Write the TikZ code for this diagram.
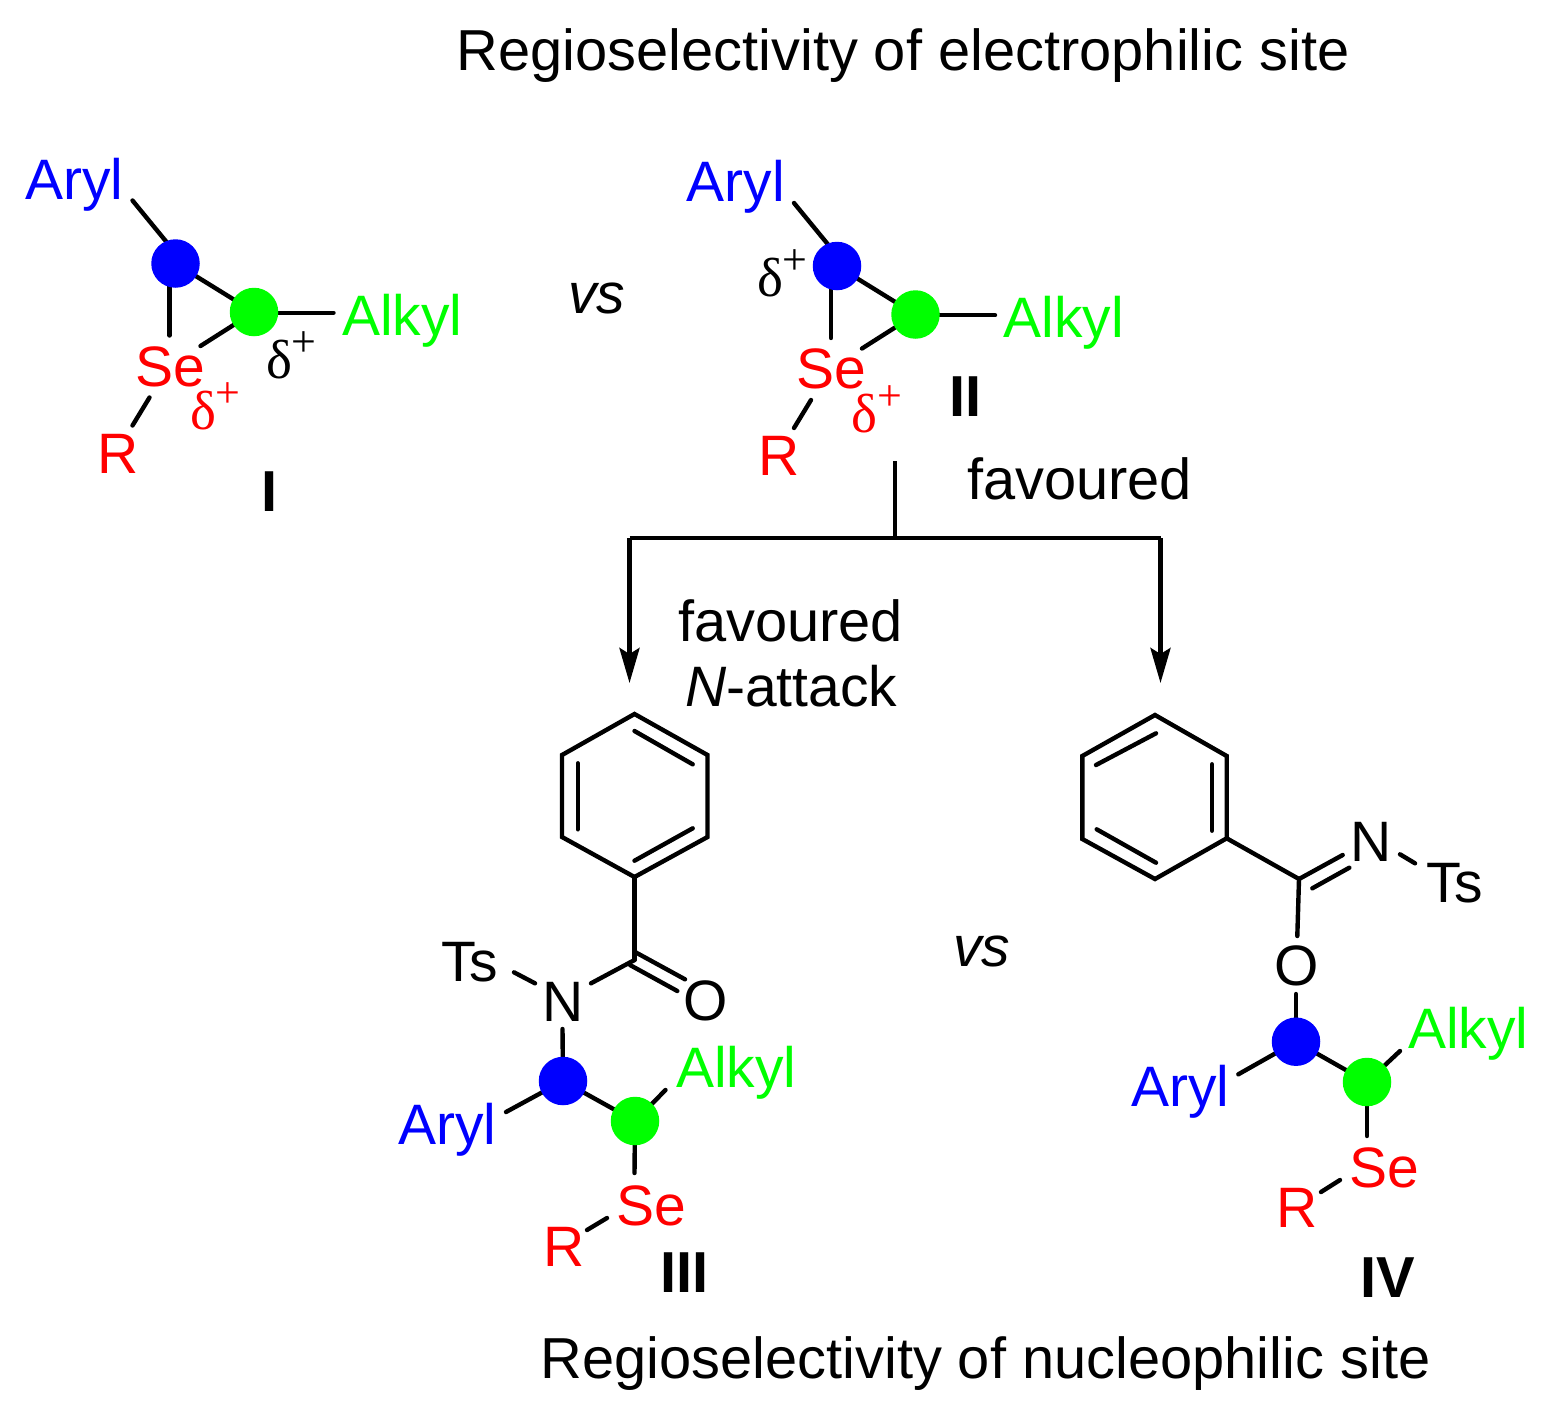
\documentclass[tikz,border=0pt]{standalone}
\usepackage{fontspec}
\setmainfont{Liberation Sans}
\newfontfamily\delfont{Liberation Serif}
\usetikzlibrary{arrows.meta,backgrounds}
\definecolor{cblue}{HTML}{0000FF}
\definecolor{cgreen}{HTML}{00FF00}
\definecolor{cred}{HTML}{FF0000}
\newcommand\dplus{{\delfont\fontsize{55}{55}\selectfont δ\raisebox{22pt}{\fontsize{44}{44}\selectfont +}}}
\tikzset{
  lab/.style={anchor=base west,inner sep=0pt,outer sep=0pt,yshift=-1pt,font=\fontsize{57}{60}\selectfont,text=black},
  txt/.style={lab,font=\fontsize{57.8}{60}\selectfont},
  blab/.style={lab,text=cblue},
  glab/.style={lab,text=cgreen},
  rlab/.style={lab,text=cred},
  dlab/.style={anchor=base west,inner sep=0pt,outer sep=0pt,text=black},
  num/.style={anchor=base,inner sep=0pt,outer sep=0pt,font=\fontsize{57.8}{60}\selectfont\bfseries},
  bluedot/.style={circle,fill=cblue,minimum size=48.5pt,inner sep=0pt,outer sep=0pt},
  greendot/.style={circle,fill=cgreen,minimum size=48.5pt,inner sep=0pt,outer sep=0pt},
  bond/.style={line width=4.4pt,line cap=round,line join=miter,black},
  flow/.style={line width=4.4pt,line join=miter,black},
  arrowed/.style={flow,-{Stealth[length=35pt,width=20pt,inset=6pt]}}
}
\newcommand\cyclo[4]{%
\begin{scope}[shift={(#2,#3)}]
  \node[blab] (#1aryl) at (25,198) {Aryl};
  \node[glab] (#1alkyl) at (342,334) {Alkyl};
  \node[rlab] (#1se) at (135,385) {Se};
  \node[rlab] (#1r) at (97,472) {R};
  \node[bluedot] (#1blue) at (175.5,263.5) {};
  \node[greendot] (#1green) at (254,312) {};
  \coordinate (#1ca) at (132.5,200.5);
  \coordinate (#1cb) at (169.5,335.5);
  \coordinate (#1cc) at (200.5,346);
  \coordinate (#1cd) at (333.5,312.7);
  \coordinate (#1ce) at (149.5,397.5);
  \coordinate (#1cf) at (132.5,425.5);
  \begin{pgfonlayer}{background}
    \draw[bond] (#1blue.center) -- (#1green.center);
    \draw[bond] ([xshift=-2pt,yshift=13pt]#1blue.center) -- (#1ca);
    \draw[bond] ([xshift=-6pt]#1blue.center) -- (#1cb);
    \draw[bond] (#1green.center) -- (#1cc);
    \draw[bond] ([yshift=-0.7pt]#1green.center) -- (#1cd);
    \draw[bond] (#1ce) -- (#1cf);
  \end{pgfonlayer}
\end{scope}}
\begin{document}
\begin{tikzpicture}[x=1pt,y=-1pt]
\useasboundingbox (0,0) rectangle (1546,1417);
\node[txt] (title) at (456.5,69.5) {Regioselectivity of electrophilic site};
\node[txt] (foot) at (540.5,1377) {Regioselectivity of nucleophilic site};

% I and II
\cyclo{a}{0}{0}{}
\cyclo{b}{661.5}{2.5}{}
\node[dlab] (da) at (266,378) {\dplus};
\node[dlab,text=cred] (dar) at (190,429) {\dplus};
\node[dlab] (db) at (757,296) {\dplus};
\node[dlab,text=cred] (dbr) at (851.5,432) {\dplus};
\node[num] (nI) at (269.5,511) {I};
\node[num] (nII) at (965.5,416) {II};
\node[lab,font=\fontsize{57}{60}\selectfont\itshape] (vsa) at (568,312) {vs};
\node[txt] (fav) at (967,498) {favoured};

% branching arrows
\coordinate (top) at (895,461);
\coordinate (fork) at (895,538);
\coordinate (fl) at (629.5,538);
\coordinate (fr) at (1160.5,538);
\coordinate (tl) at (629.5,683);
\coordinate (tr) at (1160.5,683);
\draw[flow] (top) -- (fork);
\draw[flow,line cap=square] (fl) -- (fr);
\draw[arrowed] (fl) -- (tl);
\draw[arrowed] (fr) -- (tr);

\node[txt] (fav2) at (678,640.5) {favoured};
\node[lab] (natt) at (685,705) {\textit{N}-attack};
\node[lab,font=\fontsize{57}{60}\selectfont\itshape] (vsb) at (953,965) {vs};

% III
\coordinate (h1) at (634.5,714);
\coordinate (h2) at (707.5,755);
\coordinate (h3) at (707.5,837);
\coordinate (h4) at (634.5,877);
\coordinate (h5) at (562,837);
\coordinate (h6) at (562,755);
\draw[bond] (h1) -- (h2) -- (h3) -- (h4) -- (h5) -- (h6) -- cycle;
\coordinate (i1a) at (634.5,731);
\coordinate (i1b) at (692.7,764.3);
\coordinate (i2a) at (577.7,763.3);
\coordinate (i2b) at (577.7,829.3);
\coordinate (i3a) at (634.5,860.7);
\coordinate (i3b) at (692.7,828.3);
\draw[bond] (i1a) -- (i1b);
\draw[bond] (i2a) -- (i2b);
\draw[bond] (i3a) -- (i3b);
\coordinate (c3) at (634.5,960);
\draw[bond] (h4) -- (c3);
\node[lab] (ts3) at (441,980.5) {Ts};
\node[lab] (n3) at (542,1020) {N};
\node[lab] (o3) at (683.5,1019.5) {O};
\coordinate (n3e) at (591,983.3);
\draw[bond] (c3) -- (n3e);
\coordinate (o3a) at (634.5,951.7);
\coordinate (o3b) at (685,979.3);
\coordinate (o3c) at (630,965);
\coordinate (o3d) at (677.3,991);
\draw[bond] (o3a) -- (o3b);
\draw[bond] (o3c) -- (o3d);
\coordinate (t3a) at (514,972.3);
\coordinate (t3b) at (535,983.3);
\draw[bond] (t3a) -- (t3b);
\node[bluedot] (blue3) at (563,1081) {};
\node[greendot] (green3) at (635,1121) {};
\node[blab] (aryl3) at (398,1143) {Aryl};
\node[glab] (alkyl3) at (676,1086) {Alkyl};
\node[rlab] (se3) at (616,1224) {Se};
\node[rlab] (r3) at (543,1265) {R};
\coordinate (n3d) at (562.5,1029);
\coordinate (ar3) at (506,1112);
\coordinate (al3) at (665.5,1090);
\coordinate (se3t) at (634.5,1173);
\coordinate (se3a) at (607,1218);
\coordinate (se3b) at (587,1230);
\begin{pgfonlayer}{background}
\draw[bond] (blue3.center) -- (green3.center);
\draw[bond] (blue3.center) -- (n3d);
\draw[bond] (blue3.center) -- (ar3);
\draw[bond] (green3.center) -- (al3);
\draw[bond] (green3.center) -- (se3t);
\draw[bond] (se3a) -- (se3b);
\end{pgfonlayer}
\node[num] (nIII) at (684.5,1292) {III};

% IV
\coordinate (k1) at (1155,715);
\coordinate (k2) at (1226.7,756);
\coordinate (k3) at (1226.7,838.3);
\coordinate (k4) at (1155,879);
\coordinate (k5) at (1082.3,839);
\coordinate (k6) at (1082.3,756);
\draw[bond] (k1) -- (k2) -- (k3) -- (k4) -- (k5) -- (k6) -- cycle;
\coordinate (j1a) at (1096,765);
\coordinate (j1b) at (1156,733.3);
\coordinate (j2a) at (1212,764.3);
\coordinate (j2b) at (1212,830.7);
\coordinate (j3a) at (1096.7,829.3);
\coordinate (j3b) at (1156,862.7);
\draw[bond] (j1a) -- (j1b);
\draw[bond] (j2a) -- (j2b);
\draw[bond] (j3a) -- (j3b);
\coordinate (c4) at (1299,879);
\draw[bond] (k3) -- (c4);
\coordinate (n4a) at (1342.7,855);
\coordinate (n4b) at (1312.3,888.3);
\coordinate (n4c) at (1349.3,867.7);
\draw[bond] (c4) -- (n4a);
\draw[bond] (n4b) -- (n4c);
\coordinate (o4t) at (1297.3,936);
\draw[bond] (c4) -- (o4t);
\node[lab] (n4) at (1350.5,860) {N};
\node[lab] (ts4) at (1426,901) {Ts};
\node[lab] (o4) at (1274.5,984.5) {O};
\coordinate (t4a) at (1400,854.3);
\coordinate (t4b) at (1415,863.3);
\draw[bond] (t4a) -- (t4b);
\node[bluedot] (blue4) at (1296,1041.7) {};
\node[greendot] (green4) at (1367,1082) {};
\node[blab] (aryl4) at (1131,1105) {Aryl};
\node[glab] (alkyl4) at (1408,1047) {Alkyl};
\node[rlab] (se4) at (1349,1186) {Se};
\node[rlab] (r4) at (1276,1226) {R};
\coordinate (o4d) at (1296,994);
\coordinate (ar4) at (1238.3,1074.3);
\coordinate (al4) at (1400,1051);
\coordinate (se4t) at (1367,1136);
\coordinate (se4a) at (1340,1180);
\coordinate (se4b) at (1321,1192);
\begin{pgfonlayer}{background}
\draw[bond] (blue4.center) -- (green4.center);
\draw[bond] (blue4.center) -- (o4d);
\draw[bond] (blue4.center) -- (ar4);
\draw[bond] (green4.center) -- (al4);
\draw[bond] (green4.center) -- (se4t);
\draw[bond] (se4a) -- (se4b);
\end{pgfonlayer}
\node[num] (nIV) at (1388,1297) {IV};
\end{tikzpicture}
\end{document}
